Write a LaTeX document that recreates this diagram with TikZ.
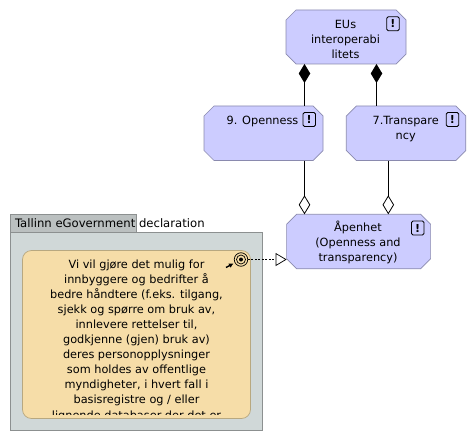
\documentclass[tikz,border=0pt]{standalone}
\usepackage{fontspec}
\setmainfont{DejaVu Sans}
\usetikzlibrary{arrows.meta,calc}
\definecolor{boxfill}{HTML}{CCCCFF}
\definecolor{boxline}{HTML}{8A8AAE}
\definecolor{groupfill}{HTML}{D0D8D8}
\definecolor{tabfill}{HTML}{BBC0C0}
\definecolor{groupline}{HTML}{8C9090}
\definecolor{notefill}{HTML}{F6DDA8}
\definecolor{noteline}{HTML}{B8A880}
\newcommand{\chamferoutline}[1]{%
  \draw[draw=boxline,fill=boxfill,line width=.7pt]
    ($(#1.north west)+(10,0)$) -- ($(#1.north east)+(-10,0)$) -- ($(#1.north east)+(0,10)$)
    -- ($(#1.south east)+(0,-10)$) -- ($(#1.south east)+(-10,0)$) -- ($(#1.south west)+(10,0)$)
    -- ($(#1.south west)+(0,-10)$) -- ($(#1.north west)+(0,10)$) -- cycle;}
\tikzset{
  x=1pt,y=-1pt,
  every node/.style={inner sep=0pt,outer sep=0pt},
  reqbox/.style={anchor=north west},
  boxlabel/.style={font=\fontsize{11.3}{15.1}\selectfont,align=center,anchor=north},
  flag/.style={draw=black,rounded corners=1.5pt,line width=.8pt,minimum width=12.5pt,minimum height=14pt,font=\fontsize{11}{11}\selectfont\bfseries},
  composed/.style={{Diamond[width=11.5pt,length=19pt,fill=black]}-,line width=.8pt},
  aggregated/.style={-{Diamond[width=11.5pt,length=19pt,open,fill=white]},line width=.8pt},
  realizes/.style={-{Triangle[width=13pt,length=11pt,open,fill=white]},line width=.7pt,dash pattern=on 2pt off 1.5pt},
}
\begin{document}
\begin{tikzpicture}
\useasboundingbox (0,0) rectangle (476,441);
% group
\node[draw=groupline,fill=tabfill,line width=.7pt,minimum width=126pt,minimum height=18pt,anchor=north west] (tab) at (10.3,214.3) {};
\node[draw=groupline,fill=groupfill,line width=.7pt,minimum width=252pt,minimum height=198pt,anchor=north west] (group) at (10.3,232.3) {};
\node[anchor=west,font=\fontsize{11.65}{13}\selectfont] (grouptitle) at (15,223.5) {Tallinn eGovernment declaration};
% note
\node[draw=noteline,fill=notefill,line width=.7pt,rounded corners=9pt,minimum width=228pt,minimum height=168pt,anchor=north west] (note) at (22.5,250.5) {};
\begin{scope}
\clip (22,254) rectangle (250,414);
\node[boxlabel] (notetext) at (136.5,259.5) {Vi vil gjøre det mulig for\\innbyggere og bedrifter å\\bedre håndtere (f.eks. tilgang,\\sjekk og spørre om bruk av,\\innlevere rettelser til,\\godkjenne (gjen) bruk av)\\deres personopplysninger\\som holdes av offentlige\\myndigheter, i hvert fall i\\basisregistre og / eller\\lignende databaser der det er};
\end{scope}
% target icon
\node[circle,draw=black,line width=.7pt,minimum size=13.5pt,fill=notefill] (target) at (241,259.5) {};
\node[circle,draw=black,line width=.7pt,minimum size=9pt] (targetmid) at (241,259.5) {};
\node[circle,fill=black,minimum size=4pt] (targetdot) at (241,259.5) {};
\coordinate (targettail) at (226,267.5);
\draw[line width=1.4pt,-{Latex[length=4.5pt,width=5pt]}] (targettail) -- (233.5,263.5);
% requirement boxes
\node[reqbox,minimum width=120pt,minimum height=54pt] (eu) at (286,10) {};
\chamferoutline{eu}
\node[boxlabel] (eutext) at (345.5,20) {EUs\\interoperabi\\litets};
\node[flag] (euflag) at (393,23.7) {!};
\node[reqbox,minimum width=119pt,minimum height=54.5pt] (nine) at (204,106) {};
\chamferoutline{nine}
\node[boxlabel] (ninetext) at (262.5,116.5) {9. Openness};
\node[flag] (nineflag) at (309.2,119.5) {!};
\node[reqbox,minimum width=119.5pt,minimum height=54.5pt] (seven) at (346.3,106) {};
\chamferoutline{seven}
\node[boxlabel] (seventext) at (405.7,116.5) {7.Transpare\\ncy};
\node[flag] (sevenflag) at (452.5,119.5) {!};
\node[reqbox,minimum width=144pt,minimum height=54.5pt] (open) at (286.6,214.3) {};
\chamferoutline{open}
\node[boxlabel] (opentext) at (358,221) {Åpenhet\\(Openness and\\transparency)};
\node[flag] (openflag) at (417.7,228) {!};
% connectors
\coordinate (cA) at (304.5,0);
\coordinate (cB) at (376.5,0);
\coordinate (cC) at (304.5,0);
\coordinate (cD) at (388.3,0);
\draw[composed] (cA |- eu.south) -- (cA |- nine.north);
\draw[composed] (cB |- eu.south) -- (cB |- seven.north);
\draw[aggregated] (cC |- nine.south) -- (cC |- open.north);
\draw[aggregated] (cD |- seven.south) -- (cD |- open.north);
\draw[realizes] (target.east) -- (target.east -| open.west);
\end{tikzpicture}
\end{document}
